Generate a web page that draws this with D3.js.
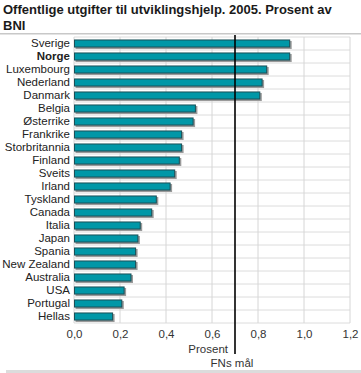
<!DOCTYPE html>
<html>
<head>
<meta charset="utf-8">
<script src="https://cdn.jsdelivr.net/npm/d3@7"></script>
<style>
  body { margin: 0; background: #fff; }
  svg text { font-family: "Liberation Sans", Arial, sans-serif; }
</style>
</head>
<body>
<div id="chart"></div>
<script>
// data
var countries = ["Sverige", "Norge", "Luxembourg", "Nederland", "Danmark", "Belgia", "Østerrike",
  "Frankrike", "Storbritannia", "Finland", "Sveits", "Irland", "Tyskland", "Canada", "Italia",
  "Japan", "Spania", "New Zealand", "Australia", "USA", "Portugal", "Hellas"];
var values = [0.94, 0.94, 0.84, 0.82, 0.81, 0.53, 0.52, 0.47, 0.47, 0.46, 0.44, 0.42, 0.36,
  0.34, 0.29, 0.28, 0.27, 0.27, 0.25, 0.22, 0.21, 0.17];
var ticks = [0, 0.2, 0.4, 0.6, 0.8, 1.0, 1.2];
var goal = 0.7;

var svgWidth = 361, svgHeight = 373;
var margin = {top: 37, right: 11, bottom: 50, left: 74};
var width = svgWidth - margin.left - margin.right;
var height = svgHeight - margin.top - margin.bottom;

var svg = d3.select("#chart").append("svg")
  .attr("width", svgWidth)
  .attr("height", svgHeight);

// title
svg.append("text").attr("x", 3).attr("y", 14)
  .attr("font-size", "13px").attr("font-weight", 700).attr("fill", "#1a1a1a")
  .text("Offentlige utgifter til utviklingshjelp. 2005. Prosent av");
svg.append("text").attr("x", 3).attr("y", 29.5)
  .attr("font-size", "13px").attr("font-weight", 700).attr("fill", "#1a1a1a")
  .text("BNI");

svg.append("rect").attr("x", 0).attr("y", 33).attr("width", svgWidth).attr("height", 1.5).attr("fill", "#c8c8c8");
svg.append("rect").attr("x", 6).attr("y", 370).attr("width", svgWidth - 6).attr("height", 3).attr("fill", "#dcdcdc");

var chartGroup = svg.append("g")
  .attr("transform", `translate(${margin.left}, ${margin.top})`);

var x = d3.scaleLinear().domain([0, 1.2]).range([0, width]);
var y = d3.scaleBand().domain(countries).range([0, height]).paddingInner(0.38).paddingOuter(0.19);
var step = y.step();

// grid
chartGroup.selectAll(".hgrid").data(countries).enter().append("line")
  .attr("x1", 0).attr("x2", width)
  .attr("y1", (d, i) => i * step).attr("y2", (d, i) => i * step)
  .attr("stroke", "#dcdcdc").attr("stroke-width", 1);
chartGroup.append("line").attr("x1", 0).attr("x2", width).attr("y1", height).attr("y2", height)
  .attr("stroke", "#dcdcdc");
chartGroup.selectAll(".vgrid").data(ticks).enter().append("line")
  .attr("x1", d => x(d)).attr("x2", d => x(d))
  .attr("y1", 0).attr("y2", height)
  .attr("stroke", "#d6d6d6").attr("stroke-width", 1);

// shadows
chartGroup.selectAll(".shadow").data(values).enter().append("rect")
  .attr("x", 1.5).attr("y", (d, i) => y(countries[i]) + 1.5)
  .attr("width", d => x(d)).attr("height", y.bandwidth())
  .attr("fill", "#9a9a9a");

// bars
chartGroup.selectAll(".bar").data(values).enter().append("rect")
  .attr("x", 0.5).attr("y", (d, i) => y(countries[i]) + 0.5)
  .attr("width", d => x(d) - 1).attr("height", y.bandwidth() - 1)
  .attr("fill", "#0097a7").attr("stroke", "#1b4f57").attr("stroke-width", 1);

// axis labels
var xAxis = d3.axisBottom(x).tickValues(ticks).tickSize(0).tickPadding(7)
  .tickFormat(d => d3.format(".1f")(d).replace(".", ","));
var gx = chartGroup.append("g").attr("transform", `translate(0, ${height})`).call(xAxis);
gx.select(".domain").remove();
gx.selectAll("text").attr("font-size", "11.5px").attr("fill", "#333")
  .style("font-family", "'Liberation Sans', Arial, sans-serif");

var yAxis = d3.axisLeft(y).tickSize(0).tickPadding(4);
var gy = chartGroup.append("g").call(yAxis);
gy.select(".domain").remove();
gy.selectAll("text").attr("font-size", "11.5px").attr("fill", "#222")
  .style("font-family", "'Liberation Sans', Arial, sans-serif")
  .attr("font-weight", d => d === "Norge" ? 700 : 400);

// goal line
chartGroup.append("line")
  .attr("x1", x(goal)).attr("x2", x(goal))
  .attr("y1", -2).attr("y2", height + 31)
  .attr("stroke", "#000").attr("stroke-width", 1.6);

chartGroup.append("text")
  .attr("x", x(0.6) + 16).attr("y", height + 30)
  .attr("text-anchor", "end").attr("font-size", "11.5px").attr("fill", "#333")
  .text("Prosent");
chartGroup.append("text")
  .attr("x", x(goal) - 3).attr("y", height + 44)
  .attr("text-anchor", "middle").attr("font-size", "11.5px").attr("fill", "#333")
  .text("FNs mål");
</script>
</body>
</html>
